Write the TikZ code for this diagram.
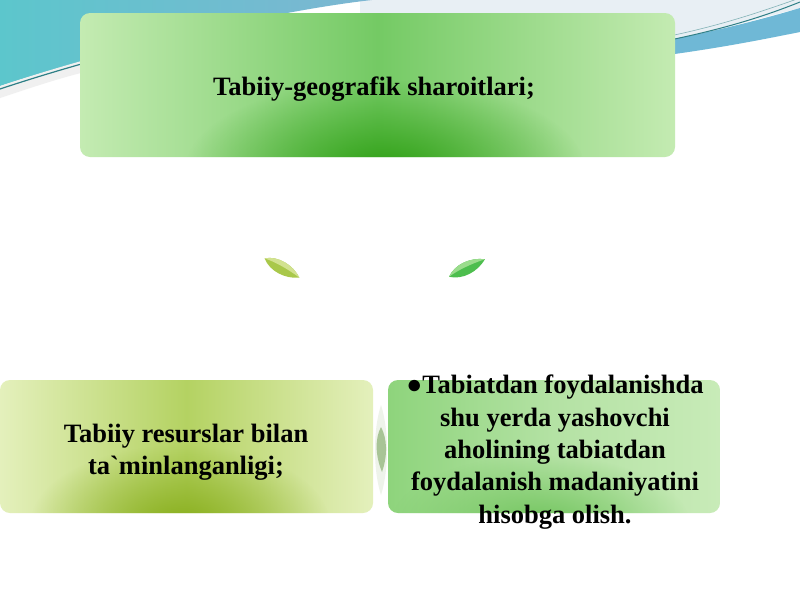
\documentclass[tikz,border=0pt]{standalone}
\usepackage{fontspec}
\setmainfont{Liberation Serif}[Ligatures=TeXOff]
\usetikzlibrary{fadings}
\tikzfading[name=glowfade, inner color=transparent!0, outer color=transparent!100]
\definecolor{bgblue}{HTML}{7DB6D2}
\definecolor{bgteal}{HTML}{5CC6CC}
\definecolor{bgband}{HTML}{6FB8D6}
\definecolor{bgpale}{HTML}{E8EFF4}
\definecolor{lineteal}{HTML}{2E7F86}
\definecolor{tgEdge}{HTML}{C4EBB2}
\definecolor{tgMid}{HTML}{74CA64}
\definecolor{tgDark}{HTML}{2FA015}
\definecolor{lgEdge}{HTML}{E4F0BC}
\definecolor{lgMid}{HTML}{B4D262}
\definecolor{lgDark}{HTML}{88AE1C}
\definecolor{rgEdge}{HTML}{C8EBB8}
\definecolor{rgLeft}{HTML}{8ED47C}
\definecolor{rgMid}{HTML}{B4E2A4}
\definecolor{rgDark}{HTML}{70C45C}
\definecolor{leafA}{HTML}{A9C84A}
\definecolor{leafAl}{HTML}{D2E290}
\definecolor{leafB}{HTML}{4DBE4E}
\definecolor{leafBl}{HTML}{9ADC8C}
\definecolor{leafC}{HTML}{A8C496}
\tikzset{
  boxtext/.style={font=\bfseries\fontsize{26.5}{32.3}\selectfont, align=center, text=black},
  leafshape/.style={draw=none, inner sep=0pt, minimum size=0pt},
}
\begin{document}
\begin{tikzpicture}[x=1pt,y=-1pt]
\useasboundingbox (0,0) rectangle (800,600);
\fill[white] (0,0) rectangle (800,600);
% background swooshes
\fill[bgpale] (360,0) -- (800,0) -- (800,8) .. controls (760,18) and (720,30) .. (675,40) -- (560,60) -- (360,40) -- cycle;
\shade[left color=bgteal, right color=bgblue] (0,0) -- (372,0) .. controls (300,8) and (160,35) .. (0,86) -- cycle;
\fill[gray!12] (0,86) .. controls (30,76) and (60,67) .. (85,60) -- (85,72) .. controls (60,78) and (30,88) .. (0,98) -- cycle;
\draw[lineteal, line width=1.2pt] (0,89) .. controls (30,79) and (60,70) .. (85,63);
\fill[bgband] (660,42) .. controls (720,30) and (760,20) .. (800,8) -- (800,32) .. controls (760,40) and (720,48) .. (660,56) -- cycle;
\draw[lineteal, line width=1.0pt] (660,42) .. controls (720,30) and (760,18) .. (800,2);
\draw[lineteal!60, line width=0.6pt] (660,38) .. controls (720,26) and (760,12) .. (800,-2);
% top box
\begin{scope}
\clip[rounded corners=10pt] (80,13) rectangle (675,157);
\shade[left color=tgEdge, right color=tgEdge, middle color=tgMid] (80,13) rectangle (675,157);
\fill[tgDark, path fading=glowfade] (385,170) ellipse (200 and 90);
\end{scope}
\node[boxtext] (top) at (374,89) {Tabiiy-geografik sharoitlari;};
% left box
\begin{scope}
\clip[rounded corners=10pt] (0,380) rectangle (373,513);
\shade[left color=lgEdge, right color=lgEdge, middle color=lgMid] (0,380) rectangle (373,513);
\fill[lgDark, path fading=glowfade] (180,525) ellipse (150 and 80);
\end{scope}
\node[boxtext] (left) at (186,452) {Tabiiy resurslar bilan\\ta`minlanganligi;};
% right box
\begin{scope}
\clip[rounded corners=10pt] (388,380) rectangle (720,513);
\shade[left color=rgLeft, right color=rgEdge, middle color=rgMid] (388,380) rectangle (720,513);
\fill[rgDark, path fading=glowfade] (540,525) ellipse (150 and 70);
\end{scope}
\node[boxtext] (right) at (555,452) {●Tabiatdan foydalanishda\\shu yerda yashovchi\\aholining tabiatdan\\foydalanish madaniyatini\\hisobga olish.};
% leaves (decorative arrows)
\node[leafshape] (leafL) at (282,268) {};
\begin{scope}[shift={(leafL)}, rotate=-29]
\fill[leafA] (-20,0) .. controls (-9,-9) and (8,-8) .. (20,0) .. controls (8,8) and (-9,9) .. (-20,0) -- cycle;
\fill[leafAl] (-20,0) .. controls (-9,-9) and (8,-8) .. (20,0) .. controls (5,-2) and (-9,-2) .. (-20,0) -- cycle;
\end{scope}
\node[leafshape] (leafR) at (467,268) {};
\begin{scope}[shift={(leafR)}, rotate=26]
\fill[leafB] (-20,0) .. controls (-9,-9) and (8,-8) .. (20,0) .. controls (8,8) and (-9,9) .. (-20,0) -- cycle;
\fill[leafBl] (-20,0) .. controls (-9,-9) and (8,-8) .. (20,0) .. controls (5,-2) and (-9,-2) .. (-20,0) -- cycle;
\end{scope}
\node[leafshape] (leafM) at (381,449) {};
\fill[white!80!leafC] (381,405) .. controls (389,430) and (389,470) .. (381,495) .. controls (373,470) and (373,430) .. (381,405) -- cycle;
\fill[leafC] (381,427) .. controls (387,438) and (388,455) .. (382,472) .. controls (375,455) and (375,438) .. (381,427) -- cycle;
\end{tikzpicture}
\end{document}
